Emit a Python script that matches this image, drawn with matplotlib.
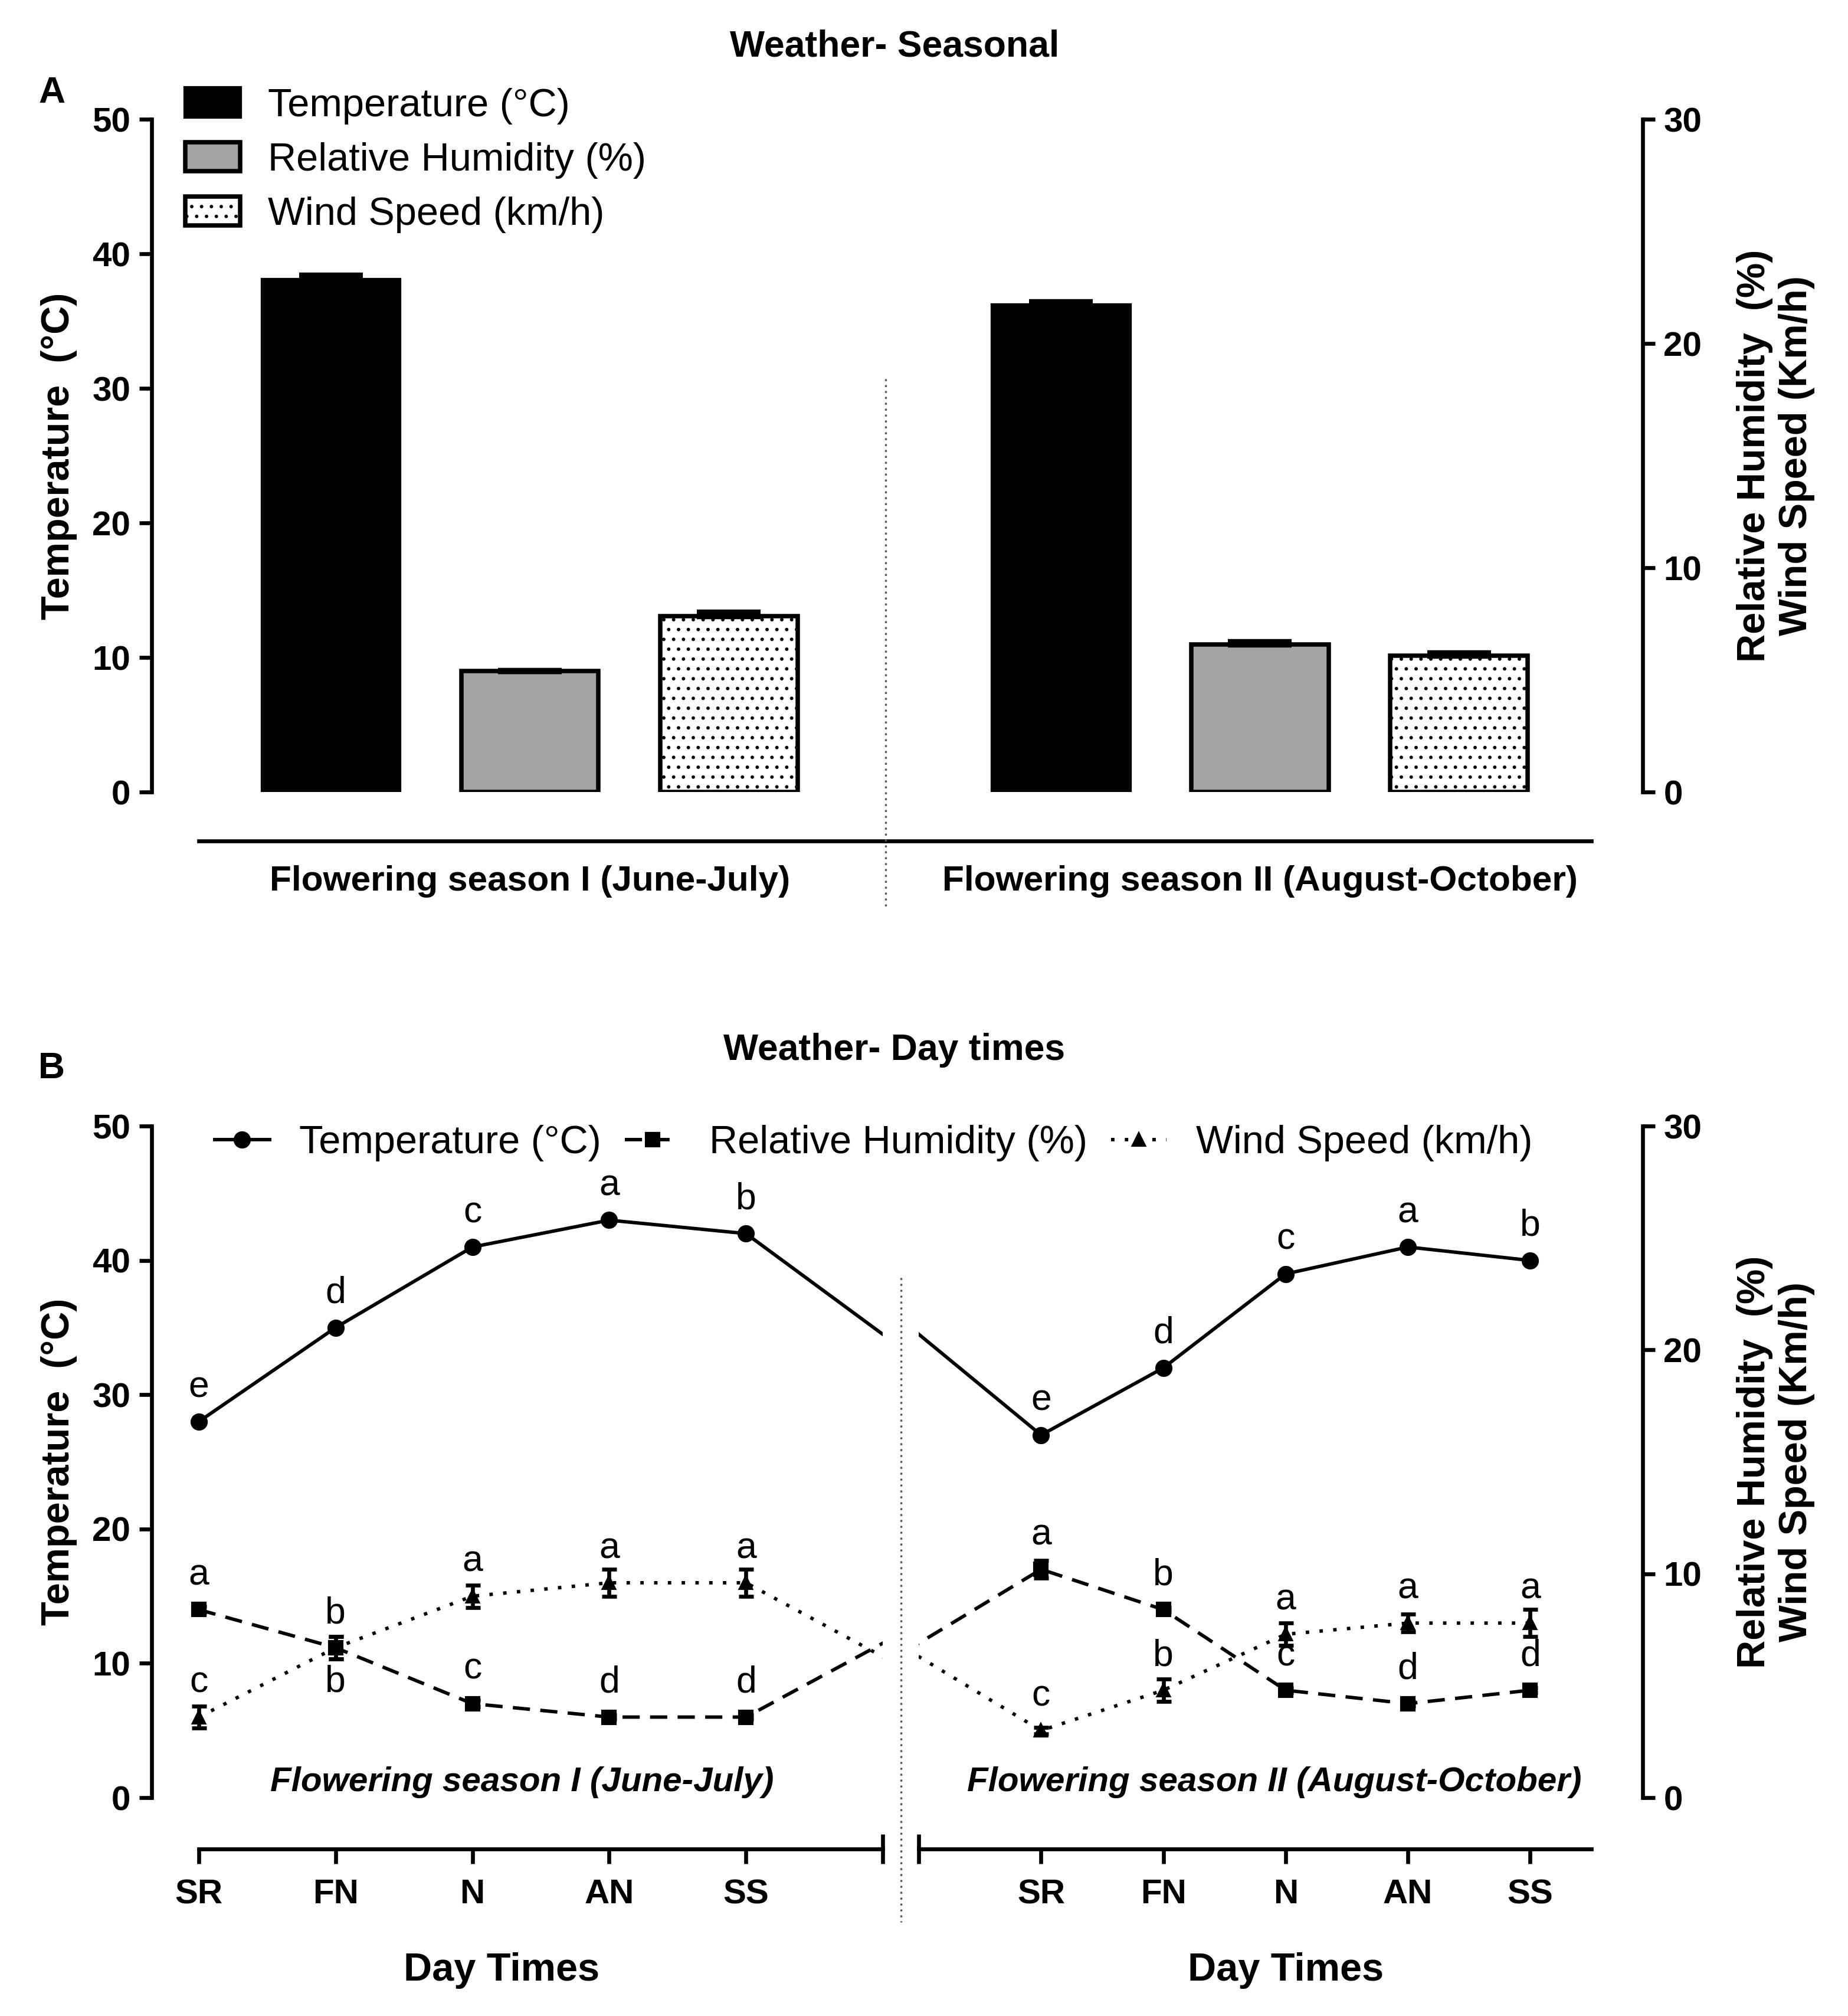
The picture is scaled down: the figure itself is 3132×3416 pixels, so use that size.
import numpy as np
import matplotlib
matplotlib.use('Agg')
import matplotlib.pyplot as plt
from matplotlib.lines import Line2D

plt.rcParams['font.family'] = ['Liberation Sans', 'DejaVu Sans']
plt.rcParams['hatch.linewidth'] = 0.6

#%% Data - panel A (seasonal means)

seasons = ['Flowering season I (June-July)', 'Flowering season II (August-October)']
temp_season = [38.1, 36.2]
temp_season_err = [0.3, 0.2]
rh_season = [5.4, 6.6]
rh_season_err = [0.0, 0.1]
wind_season = [7.85, 6.1]
wind_season_err = [0.15, 0.1]

#%% Data - panel B (day times)

day_times = ['SR', 'FN', 'N', 'AN', 'SS']
temp_s1 = [28, 35, 41, 43, 42]
temp_s2 = [27, 32, 39, 41, 40]
rh_s1 = [8.4, 6.7, 4.2, 3.6, 3.6]
rh_s1_err = [0.15, 0.5, 0.15, 0.1, 0.1]
rh_s2 = [10.2, 8.4, 4.8, 4.2, 4.8]
rh_s2_err = [0.4, 0.1, 0.1, 0.1, 0.1]
wind_s1 = [3.6, 6.7, 9.0, 9.6, 9.6]
wind_s1_err = [0.5, 0.5, 0.5, 0.6, 0.6]
wind_s2 = [3.0, 4.8, 7.3, 7.8, 7.8]
wind_s2_err = [0.15, 0.5, 0.5, 0.4, 0.6]

temp_letters = ['e', 'd', 'c', 'a', 'b']
rh_letters = ['a', 'b', 'c', 'd', 'd']
wind_letters = ['c', 'b', 'a', 'a', 'a']
rh_side_s1 = [1, -1, 1, 1, 1]

#%% Figure

fig = plt.figure(figsize=(10.44, 11.3867), dpi=300)
TICK = 14
LAB = 16
lw_ax = 1.6

def style_ticks(ax):
    for t in ax.get_yticklabels() + ax.get_xticklabels():
        t.set_fontweight('bold')

#%% Panel A

axA = fig.add_axes([0.0819, 0.6070, 0.807, 0.3338])
axAr = axA.twinx()

g_off = np.array([0, 3.67])
w = 0.69
bt = axA.bar(0 + g_off, temp_season, w, color='black', edgecolor='black', lw=1.5,
             yerr=[np.zeros(2), temp_season_err],
             error_kw=dict(capsize=13, elinewidth=2, capthick=2.5, ecolor='black'))
br = axAr.bar(1 + g_off, rh_season, w, color='#a3a3a3', edgecolor='black', lw=1.8,
              yerr=[np.zeros(2), rh_season_err],
              error_kw=dict(capsize=13, elinewidth=2, capthick=2.5, ecolor='black'))
bw = axAr.bar(2 + g_off, wind_season, w, color='white', edgecolor='black', lw=1.8,
              hatch='...', yerr=[np.zeros(2), wind_season_err],
              error_kw=dict(capsize=13, elinewidth=2, capthick=2.5, ecolor='black'))

axA.set_xlim(-0.903, 6.594)
axA.set_ylim(0, 50)
axAr.set_ylim(0, 30)
axA.set_yticks(range(0, 51, 10))
axAr.set_yticks(range(0, 31, 10))
axA.set_xticks([])

for s in ['top', 'right']:
    axA.spines[s].set_visible(False)
for s in ['top', 'left', 'bottom']:
    axAr.spines[s].set_visible(False)
axA.spines['left'].set_linewidth(lw_ax)
axAr.spines['right'].set_linewidth(lw_ax)
axA.spines['bottom'].set_linewidth(lw_ax)
axA.spines['bottom'].set_position(('outward', 19.8))
axA.spines['bottom'].set_bounds(-0.665, 6.335)
axA.tick_params(axis='y', labelsize=TICK, width=lw_ax, length=5)
axAr.tick_params(axis='y', labelsize=TICK, width=lw_ax, length=5)
style_ticks(axA)
style_ticks(axAr)

for i, lab in enumerate(seasons):
    axA.text(1 + g_off[i], -0.132, lab, transform=axA.get_xaxis_transform(),
             ha='center', va='center', fontsize=14.5, fontweight='bold')

axA.set_ylabel('Temperature  (°C)', fontsize=LAB, fontweight='bold', labelpad=6)
axAr.set_ylabel('Relative Humidity  (%)\nWind Speed (Km/h)', fontsize=LAB,
                fontweight='bold', labelpad=14, linespacing=1.2)

axA.legend([bt, br, bw], ['Temperature (°C)', 'Relative Humidity (%)', 'Wind Speed (km/h)'],
           loc='upper left', bbox_to_anchor=(0.012, 1.07), frameon=False, fontsize=16,
           handlelength=1.4, handleheight=0.75, handletextpad=0.7, labelspacing=0.45,
           borderaxespad=0)

fig.add_artist(Line2D([690 / 1440] * 2, [1 - 295 / 1570, 1 - 708 / 1570],
                      transform=fig.transFigure, color='#555555', lw=0.8, ls=(0, (1, 2))))

fig.text(0.484, 0.977, 'Weather- Seasonal', ha='center', va='center', fontsize=15, fontweight='bold')
fig.text(0.028, 0.954, 'A', ha='center', va='center', fontsize=15, fontweight='bold')

#%% Panel B (broken x axis)

x1 = np.arange(5)
x2 = np.arange(5) + 6
x_all = np.concatenate([x1, x2])
temp_all = temp_s1 + temp_s2
rh_all = rh_s1 + rh_s2
rh_err_all = rh_s1_err + rh_s2_err
wind_all = wind_s1 + wind_s2
wind_err_all = wind_s1_err + wind_s2_err

ax1 = fig.add_axes([0.0819, 0.1083, 0.3958, 0.3331])
ax1r = ax1.twinx()
ax2 = fig.add_axes([0.4972, 0.1083, 0.3917, 0.3331])
ax2r = ax2.twinx()

lt = lr = lwd = None
for ax, axr in [(ax1, ax1r), (ax2, ax2r)]:
    lt, = ax.plot(x_all, temp_all, '-', color='black', lw=1.4, marker='o', ms=6)
    lr, = axr.plot(x_all, rh_all, color='black', lw=1.4, ls=(0, (5, 3)), marker='s', ms=5.5)
    lwd, = axr.plot(x_all, wind_all, color='black', lw=1.4, ls=(0, (1, 3)), marker='^', ms=5)
    axr.errorbar(x_all, rh_all, yerr=rh_err_all, fmt='none', ecolor='black',
                 elinewidth=1.6, capsize=3, capthick=1.6)
    axr.errorbar(x_all, wind_all, yerr=wind_err_all, fmt='none', ecolor='black',
                 elinewidth=1.6, capsize=3, capthick=1.6)
    ax.set_ylim(0, 50)
    axr.set_ylim(0, 30)
    for s in ['top', 'left', 'right', 'bottom']:
        axr.spines[s].set_visible(False)
    ax.spines['top'].set_visible(False)
    ax.spines['right'].set_visible(False)
    ax.spines['bottom'].set_linewidth(lw_ax)
    ax.spines['bottom'].set_position(('outward', 20.9))
    ax.tick_params(axis='x', labelsize=TICK, width=lw_ax, length=6, pad=6)
    ax.tick_params(axis='x', which='minor', direction='inout', length=12, width=lw_ax)
    ax.set_xlabel('Day Times', fontsize=LAB, fontweight='bold', labelpad=17)

ax1.set_xlim(-0.347, 5)
ax2.set_xlim(5, 10.92)
ax1.spines['bottom'].set_bounds(0, 5)
ax2.spines['bottom'].set_bounds(5, 10.5)
ax1.set_xticks(x1)
ax1.set_xticklabels(day_times)
ax2.set_xticks(x2)
ax2.set_xticklabels(day_times)
ax1.set_xticks([5], minor=True)
ax2.set_xticks([5], minor=True)
ax1.xaxis.label.set_x(0.479)
ax2.xaxis.label.set_x(0.507)

ax1.set_yticks(range(0, 51, 10))
ax1.spines['left'].set_linewidth(lw_ax)
ax1.tick_params(axis='y', labelsize=TICK, width=lw_ax, length=5)
ax1r.tick_params(axis='y', right=False, labelright=False)
ax2.spines['left'].set_visible(False)
ax2.tick_params(axis='y', left=False, labelleft=False)
ax2r.spines['right'].set_visible(True)
ax2r.spines['right'].set_linewidth(lw_ax)
ax2r.set_yticks(range(0, 31, 10))
ax2r.tick_params(axis='y', labelsize=TICK, width=lw_ax, length=5)
for a in [ax1, ax2, ax2r]:
    style_ticks(a)

ax1.set_ylabel('Temperature  (°C)', fontsize=LAB, fontweight='bold', labelpad=6)
ax2r.set_ylabel('Relative Humidity  (%)\nWind Speed (Km/h)', fontsize=LAB,
                fontweight='bold', labelpad=14, linespacing=1.2)

# significance letters
def letters(ax, xs, ys, labs, sides):
    for xx, yy, lab, sd in zip(xs, ys, labs, sides):
        ax.annotate(lab, (xx, yy), xytext=(0, 14 * sd), textcoords='offset points',
                    ha='center', va='center', fontsize=15)

letters(ax1, x1, temp_s1, temp_letters, [1] * 5)
letters(ax2, x2, temp_s2, temp_letters, [1] * 5)
letters(ax1r, x1, rh_s1, rh_letters, rh_side_s1)
letters(ax2r, x2, rh_s2, rh_letters, [1] * 5)
letters(ax1r, x1, wind_s1, wind_letters, [1] * 5)
letters(ax2r, x2, wind_s2, wind_letters, [1] * 5)

ax1.text(0.507, 0.01, seasons[0], transform=ax1.transAxes, ha='center', va='baseline',
         fontsize=14, fontweight='bold', style='italic')
ax2.text(0.491, 0.01, seasons[1], transform=ax2.transAxes, ha='center', va='baseline',
         fontsize=14, fontweight='bold', style='italic')

fig.legend([lt, lr, lwd], ['Temperature (°C)', 'Relative Humidity (%)', 'Wind Speed (km/h)'],
           loc='center left', bbox_to_anchor=(0.097, 0.433), ncol=3, frameon=False,
           fontsize=16, handlelength=1.4, handletextpad=0.75, columnspacing=0.6)

fig.add_artist(Line2D([702 / 1440] * 2, [1 - 995 / 1570, 1 - 1497 / 1570],
                      transform=fig.transFigure, color='#555555', lw=0.8, ls=(0, (1, 2))))

fig.text(0.484, 0.479, 'Weather- Day times', ha='center', va='center', fontsize=15, fontweight='bold')
fig.text(0.028, 0.470, 'B', ha='center', va='center', fontsize=15, fontweight='bold')

fig.savefig('out.png', dpi=300)
